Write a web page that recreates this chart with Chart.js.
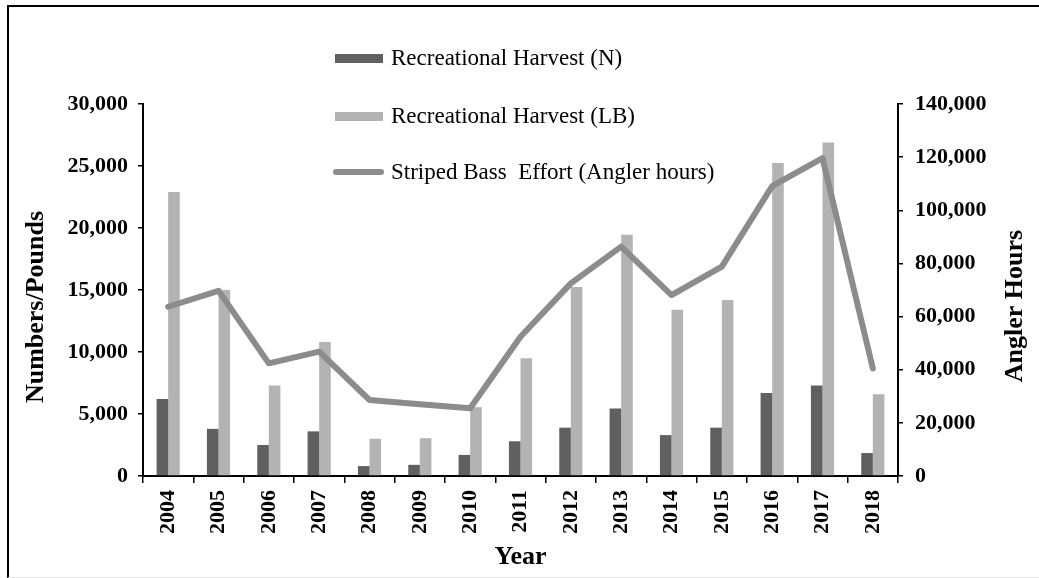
<!DOCTYPE html>
<html>
<head>
<meta charset="utf-8" />
<script src="https://cdn.jsdelivr.net/npm/chart.js"></script>
<style>
  body { margin: 0; background: #fff; }
  #wrap { position: relative; width: 1039px; height: 578px; overflow: hidden; }
  #frame {
    position: absolute; left: 7px; top: 5px; width: 1040px; height: 570px;
    border-left: 2px solid #000; border-top: 2px solid #000;
    border-bottom: 1px solid #e8e8e8; pointer-events: none;
  }
  canvas { position: absolute; left: 0; top: 0; }
</style>
</head>
<body>
<div id="wrap">
  <canvas id="chart" width="1039" height="578"></canvas>
  <div id="frame"></div>
</div>

<script>
  const years = ["2004", "2005", "2006", "2007", "2008", "2009", "2010", "2011",
                 "2012", "2013", "2014", "2015", "2016", "2017", "2018"];
  const harvestN = [6200, 3800, 2500, 3600, 800, 900, 1700, 2800,
                    3900, 5450, 3300, 3900, 6700, 7300, 1850];
  const harvestLB = [22900, 15000, 7300, 10800, 3000, 3050, 5550, 9500,
                     15250, 19450, 13400, 14200, 25250, 26900, 6600];
  const effort = [63700, 69700, 42400, 46800, 28600, 27000, 25500, 52400,
                  72500, 86300, 68100, 78800, 109100, 119600, 40500];

  const serif = "'Liberation Serif', 'Times New Roman', serif";
  const fmt = (v) => Number(v).toLocaleString("en-US");

  // legend (vertical list) + both vertical axis titles
  const extras = {
    id: "extras",
    afterDraw(chart) {
      const ctx = chart.ctx;
      ctx.save();
      ctx.fillStyle = "#000";
      ctx.textBaseline = "middle";
      ctx.font = "23px " + serif;
      const rows = [58, 116, 172];
      chart.data.datasets.forEach((ds, i) => {
        const y = rows[i];
        if (ds.type === "line") {
          ctx.strokeStyle = ds.borderColor;
          ctx.lineWidth = 6;
          ctx.lineCap = "round";
          ctx.beginPath();
          ctx.moveTo(336, y);
          ctx.lineTo(381, y);
          ctx.stroke();
        } else {
          ctx.fillStyle = ds.backgroundColor;
          ctx.fillRect(335, y - 4, 48, 9);
        }
        ctx.fillStyle = "#000";
        ctx.textAlign = "left";
        ctx.fillText(ds.label, 391, y + 1);
      });

      ctx.font = "bold 26px " + serif;
      ctx.textAlign = "center";
      ctx.save();
      ctx.translate(36, 307);
      ctx.rotate(-Math.PI / 2);
      ctx.fillText("Numbers/Pounds", 0, 0);
      ctx.restore();
      ctx.save();
      ctx.translate(1015, 306);
      ctx.rotate(-Math.PI / 2);
      ctx.fillText("Angler Hours", 0, 0);
      ctx.restore();
      ctx.restore();
    }
  };

  const axisGrid = { drawOnChartArea: false, drawTicks: true, tickLength: 5, color: "#000", lineWidth: 1.5 };

  new Chart(document.getElementById("chart").getContext("2d"), {
    type: "bar",
    data: {
      labels: years,
      datasets: [
        {
          label: "Recreational Harvest (N)",
          data: harvestN,
          backgroundColor: "#606060",
          yAxisID: "y",
          order: 1,
          categoryPercentage: 0.46,
          barPercentage: 1.0
        },
        {
          label: "Recreational Harvest (LB)",
          data: harvestLB,
          backgroundColor: "#b3b3b3",
          yAxisID: "y",
          order: 1,
          categoryPercentage: 0.46,
          barPercentage: 1.0
        },
        {
          type: "line",
          label: "Striped Bass  Effort (Angler hours)",
          data: effort,
          borderColor: "#8c8c8c",
          borderWidth: 6,
          pointRadius: 0,
          tension: 0,
          borderJoinStyle: "round",
          borderCapStyle: "round",
          fill: false,
          yAxisID: "y1",
          order: 0
        }
      ]
    },
    options: {
      responsive: false,
      animation: false,
      layout: { padding: { top: 104, left: 0, right: 0, bottom: 0 } },
      plugins: { legend: { display: false }, tooltip: { enabled: false } },
      scales: {
        x: {
          offset: true,
          grid: { offset: true, drawOnChartArea: false, drawTicks: true, tickLength: 7, color: "#000", lineWidth: 1.5 },
          border: { color: "#000", width: 2 },
          ticks: {
            color: "#000", minRotation: 90, maxRotation: 90, padding: 7,
            font: { family: serif, size: 22, weight: "bold" }
          },
          title: {
            display: true, text: "Year", color: "#000",
            font: { family: serif, size: 26, weight: "bold" },
            padding: { top: 0, bottom: 5 }
          },
          afterFit(scale) { scale.height = 102; }
        },
        y: {
          position: "left",
          min: 0, max: 30000,
          grid: axisGrid,
          border: { color: "#000", width: 2 },
          ticks: {
            stepSize: 5000, color: "#000", padding: 10, callback: fmt,
            font: { family: serif, size: 22, weight: "bold" }
          },
          afterFit(scale) { scale.width = 143; }
        },
        y1: {
          position: "right",
          min: 0, max: 140000,
          grid: axisGrid,
          border: { color: "#000", width: 2 },
          ticks: {
            stepSize: 20000, color: "#000", padding: 12, callback: fmt,
            font: { family: serif, size: 22, weight: "bold" }
          },
          afterFit(scale) { scale.width = 141; }
        }
      }
    },
    plugins: [extras]
  });
</script>
</body>
</html>
